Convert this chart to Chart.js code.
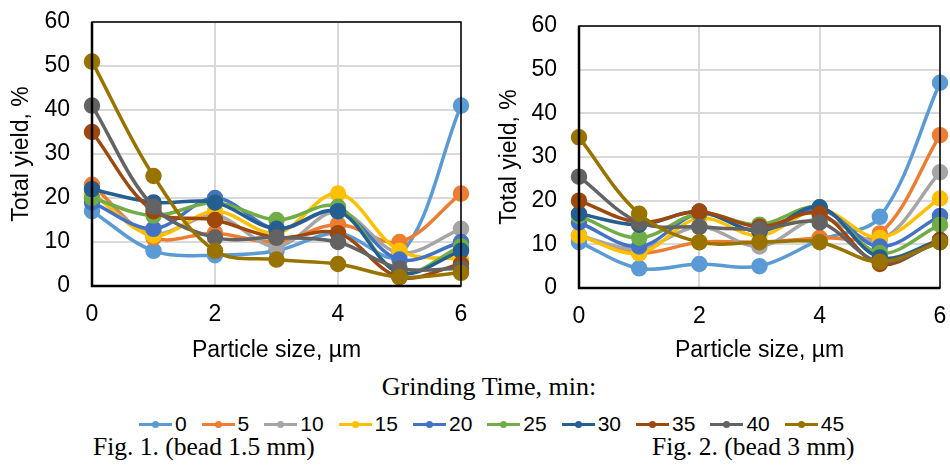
<!DOCTYPE html>
<html>
<head>
<meta charset="utf-8">
<script src="https://cdn.jsdelivr.net/npm/chart.js@4.4.0/dist/chart.umd.min.js"></script>
<style>
  body { margin:0; width:950px; height:466px; background:#fff; position:relative; overflow:hidden; }
  .box { position:absolute; top:0; width:475px; height:370px; }
  #title { position:absolute; left:0; width:978px; top:374px; line-height:26px; text-align:center; font-family:'Liberation Serif',serif; font-size:26px; }
  #legend { position:absolute; left:0; width:982px; top:413px; line-height:21px; text-align:center; font-family:'Liberation Sans',Arial,sans-serif; font-size:21px; white-space:nowrap; }
  #legend span.item { display:inline-block; margin:0 7px 0 8px; }
  #legend i { display:inline-block; width:33px; height:2.5px; vertical-align:middle; position:relative; margin-right:3px; top:-1px; }
  #legend i b { position:absolute; left:13px; top:-2px; width:7px; height:7px; border-radius:50%; }
  .cap { position:absolute; top:434px; line-height:26px; font-family:'Liberation Serif',serif; font-size:25.5px; white-space:nowrap; }
</style>
</head>
<body>
<div class="box" style="left:0"><canvas id="chart1"></canvas></div>
<div class="box" style="left:475px"><canvas id="chart2"></canvas></div>
<div id="title">Grinding Time, min:</div>
<div id="legend"></div>
<div class="cap" style="left:93px">Fig. 1. (bead 1.5 mm)</div>
<div class="cap" style="left:652px">Fig. 2. (bead 3 mm)</div>
<script>
'use strict';

// particle size, µm
const sizes = [0, 1, 2, 3, 4, 5, 6];
// grinding time, min
const times = ['0', '5', '10', '15', '20', '25', '30', '35', '40', '45'];
const colors = ['#5B9BD5', '#ED7D31', '#A5A5A5', '#FFC000', '#4472C4', '#70AD47', '#255E91', '#9E480E', '#636363', '#997300'];

// Fig. 1 (bead 1.5 mm)
const bead15 = [
  [17, 8, 7, 8, 12, 7, 41],
  [23, 11, 12, 10, 14, 10, 21],
  [21, 12, 16, 9, 17, 7.5, 13],
  [21, 11.5, 17, 12, 21, 8, 6],
  [19, 13, 20, 13, 17, 6, 10],
  [20, 16, 19, 15, 18, 3, 9],
  [22, 19, 19, 13, 17, 3, 8],
  [35, 17, 15, 11, 12, 2, 5],
  [41, 18, 11, 11, 10, 4, 4],
  [51, 25, 8, 6, 5, 2, 3]
];

// Fig. 2 (bead 3 mm)
const bead3 = [
  [10.5, 4.5, 5.5, 5, 11, 16.3, 47],
  [12, 8, 10.5, 10.5, 11.5, 12.5, 35],
  [12, 9, 14, 9.5, 16, 11, 26.5],
  [12, 8, 16, 12, 18, 11.5, 20.5],
  [15, 9.5, 17, 13, 18, 9.5, 16.5],
  [16.5, 11.5, 17, 14.5, 18.5, 8, 14.5],
  [17, 14.5, 17.5, 13, 18.5, 7, 11],
  [20, 15, 17.5, 14, 17, 5.5, 11],
  [25.5, 15, 14, 13.5, 15, 6, 10.5],
  [34.5, 17, 10.5, 10.5, 10.5, 6, 10.5]
];

const yTicks = [0, 10, 20, 30, 40, 50, 60];

// black frame round the plot area
const frame = {
  id: 'frame',
  afterDraw(chart) {
    const a = chart.chartArea, ctx = chart.ctx;
    ctx.save();
    ctx.strokeStyle = '#000';
    ctx.lineWidth = 1.5;
    ctx.strokeRect(a.left, a.top, a.right - a.left, a.bottom - a.top);
    ctx.lineWidth = 2.5;
    ctx.beginPath();
    ctx.moveTo(a.left, a.top);
    ctx.lineTo(a.left, a.bottom);
    ctx.lineTo(a.right, a.bottom);
    ctx.stroke();
    ctx.restore();
  }
};

// box = sizes of the axes and padding, so the plot area lands where it does in the figure
function makeChart(id, values, box) {
  const datasets = [];
  for (let i = 0; i < times.length; i++) {
    datasets.push({
      label: times[i],
      data: sizes.map((s, k) => ({x: s, y: values[i][k]})),
      borderColor: colors[i],
      backgroundColor: colors[i],
      borderWidth: 3.5,
      pointRadius: 6.5,
      pointHoverRadius: 6.5,
      tension: 0.35,
      clip: false,
      order: times.length - i
    });
  }
  const font = {family: 'Liberation Sans', size: 23};
  return new Chart(document.getElementById(id), {
    type: 'line',
    data: {datasets: datasets},
    plugins: [frame],
    options: {
      responsive: true,
      maintainAspectRatio: false,
      animation: false,
      layout: {padding: {left: 0, top: box.top, right: box.right, bottom: 0}},
      plugins: {legend: {display: false}, tooltip: {enabled: false}},
      scales: {
        x: {
          type: 'linear', min: 0, max: 6,
          afterFit: axis => { axis.height = box.xHeight; axis.paddingLeft = 0; axis.paddingRight = 0; },
          ticks: {stepSize: 2, color: '#000', font: font, padding: box.xPad},
          grid: {color: '#d9d9d9', lineWidth: 2, drawTicks: false},
          border: {display: false},
          title: {display: true, text: 'Particle size, µm', color: '#000', font: font, padding: {bottom: 6}}
        },
        y: {
          min: 0, max: 60,
          afterFit: axis => { axis.width = box.yWidth; axis.paddingTop = 0; axis.paddingBottom = 0; },
          afterBuildTicks: axis => { axis.ticks = yTicks.map(v => ({value: v})); },
          ticks: {color: '#000', font: font, padding: 22},
          grid: {color: '#d9d9d9', lineWidth: 2, drawTicks: false},
          border: {display: false},
          title: {display: true, text: 'Total yield, %', color: '#000', font: font, padding: {top: box.yTitle}}
        }
      }
    }
  });
}

makeChart('chart1', bead15, {top: 22, right: 14, xHeight: 84, xPad: 15, yWidth: 92, yTitle: 8});
makeChart('chart2', bead3, {top: 26, right: 8, xHeight: 82, xPad: 15, yWidth: 104, yTitle: 21});

// legend shared by both figures
const legend = document.getElementById('legend');
for (let i = 0; i < times.length; i++) {
  const item = document.createElement('span');
  item.className = 'item';
  item.innerHTML = `<i style="background:${colors[i]}"><b style="background:${colors[i]}"></b></i>${times[i]}`;
  legend.appendChild(item);
}
</script>
</body>
</html>
